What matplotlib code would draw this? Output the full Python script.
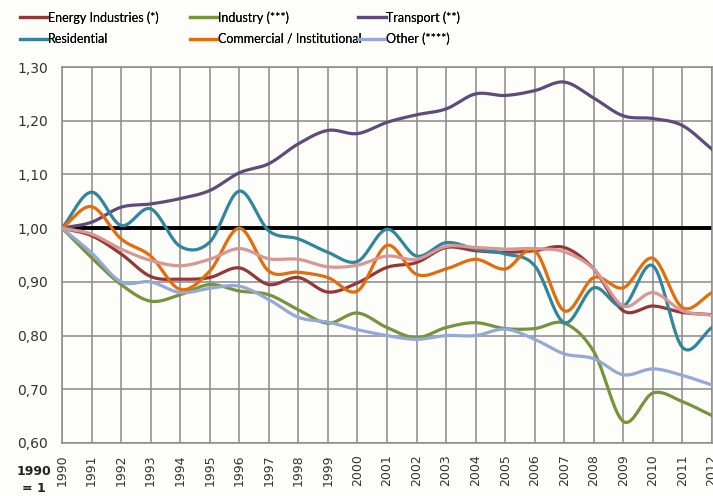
import matplotlib.pyplot as plt
import numpy as np

years = list(range(1990, 2013))

energy = [1.00, 0.986, 0.952, 0.910, 0.905, 0.908, 0.926, 0.895, 0.908, 0.881, 0.898,
          0.927, 0.936, 0.964, 0.958, 0.955, 0.958, 0.964, 0.924, 0.846, 0.855, 0.843, 0.839]
industry = [1.00, 0.945, 0.895, 0.864, 0.876, 0.895, 0.883, 0.876, 0.848, 0.823, 0.842,
            0.815, 0.796, 0.815, 0.824, 0.813, 0.813, 0.823, 0.770, 0.640, 0.693, 0.677, 0.651]
transport = [1.00, 1.011, 1.039, 1.045, 1.055, 1.070, 1.103, 1.120, 1.157, 1.182, 1.176,
             1.197, 1.211, 1.222, 1.250, 1.247, 1.256, 1.272, 1.242, 1.209, 1.204, 1.191, 1.147]
residential = [1.00, 1.067, 1.005, 1.036, 0.966, 0.974, 1.069, 0.995, 0.980, 0.955, 0.938,
               0.998, 0.948, 0.973, 0.961, 0.952, 0.930, 0.824, 0.889, 0.855, 0.930, 0.778, 0.815]
commercial = [1.00, 1.040, 0.980, 0.948, 0.886, 0.920, 1.000, 0.920, 0.918, 0.908, 0.883,
              0.968, 0.914, 0.924, 0.942, 0.924, 0.958, 0.846, 0.908, 0.889, 0.944, 0.852, 0.880]
other = [1.00, 0.954, 0.900, 0.900, 0.880, 0.888, 0.892, 0.867, 0.834, 0.825, 0.811,
         0.800, 0.793, 0.800, 0.800, 0.812, 0.793, 0.766, 0.757, 0.727, 0.738, 0.726, 0.708]
total = [1.00, 0.989, 0.961, 0.940, 0.930, 0.942, 0.962, 0.943, 0.942, 0.928, 0.931,
         0.948, 0.942, 0.966, 0.964, 0.961, 0.962, 0.956, 0.924, 0.855, 0.880, 0.846, 0.838]

series = [
    ("Energy Industries (*)", energy, "#953735"),
    ("Industry (***)", industry, "#77933c"),
    ("Transport (**)", transport, "#604a7b"),
    ("Residential", residential, "#31859c"),
    ("Commercial / Institutional", commercial, "#e46c0a"),
    ("Other (****)", other, "#95a9d6"),
    (None, total, "#d99694"),
]


def smooth(x, y, n=20):
    # catmull-rom curve through the points, like Excel's smoothed lines
    x = np.asarray(x, float)
    y = np.asarray(y, float)
    px = np.concatenate([[2 * x[0] - x[1]], x, [2 * x[-1] - x[-2]]])
    py = np.concatenate([[2 * y[0] - y[1]], y, [2 * y[-1] - y[-2]]])
    xs, ys = [], []
    t = np.linspace(0, 1, n, endpoint=False)
    for i in range(1, len(px) - 2):
        for p, out in ((px, xs), (py, ys)):
            p0, p1, p2, p3 = p[i - 1], p[i], p[i + 1], p[i + 2]
            out.extend(0.5 * ((2 * p1) + (-p0 + p2) * t
                              + (2 * p0 - 5 * p1 + 4 * p2 - p3) * t ** 2
                              + (-p0 + 3 * p1 - 3 * p2 + p3) * t ** 3))
    xs.append(x[-1])
    ys.append(y[-1])
    return np.array(xs), np.array(ys)


W, H = 713, 496
fig = plt.figure(figsize=(W / 100, H / 100), dpi=100, facecolor="#fdfdfa")
ax = fig.add_axes([62 / W, 1 - 443 / H, 650 / W, 376 / H], facecolor="#fdfdfa")

ax.axhline(1.0, color="black", lw=2.8, zorder=2)
handles = []
for label, vals, col in series:
    sx, sy = smooth(years, vals)
    ln, = ax.plot(sx, sy, color=col, lw=2.3, zorder=3)
    if label:
        handles.append((ln, label))

ax.set_xlim(1990, 2012)
ax.set_ylim(0.60, 1.30)
ax.set_xticks(years)
ax.set_xticklabels([str(y) for y in years], rotation=90, fontsize=9)
ax.set_yticks(np.arange(0.6, 1.31, 0.1))
ax.yaxis.set_major_formatter(plt.FuncFormatter(lambda v, p: ("%.2f" % v).replace(".", ",")))
ax.tick_params(axis="y", length=0, pad=10, labelsize=10, labelcolor="#333333")
ax.tick_params(axis="x", length=0, pad=8, labelcolor="#333333")
ax.grid(True, color="#8a8a8a", lw=1.1, zorder=1)
for s in ax.spines.values():
    s.set_color("#8a8a8a")
    s.set_linewidth(1.1)

fig.text(17 / W, 1 - 475 / H, "1990", fontsize=9, fontweight="bold", color="#222222")
fig.text(22 / W, 1 - 492 / H, "= 1", fontsize=9, fontweight="bold", color="#222222")

# three legend columns, each placed where the reference puts it
col_x = [20, 190, 358]
for k in range(3):
    pair = [handles[k], handles[k + 3]]
    leg = fig.legend([h for h, _ in pair], [l for _, l in pair],
                     loc="upper left", bbox_to_anchor=(col_x[k] / W, 1 - 11 / H),
                     frameon=False, prop={"family": "Lato", "size": 9},
                     handlelength=2.2, handletextpad=0.05, labelspacing=0.75,
                     borderpad=0, borderaxespad=0)
    fig.add_artist(leg)

fig.savefig("out.png", dpi=100, facecolor=fig.get_facecolor())
